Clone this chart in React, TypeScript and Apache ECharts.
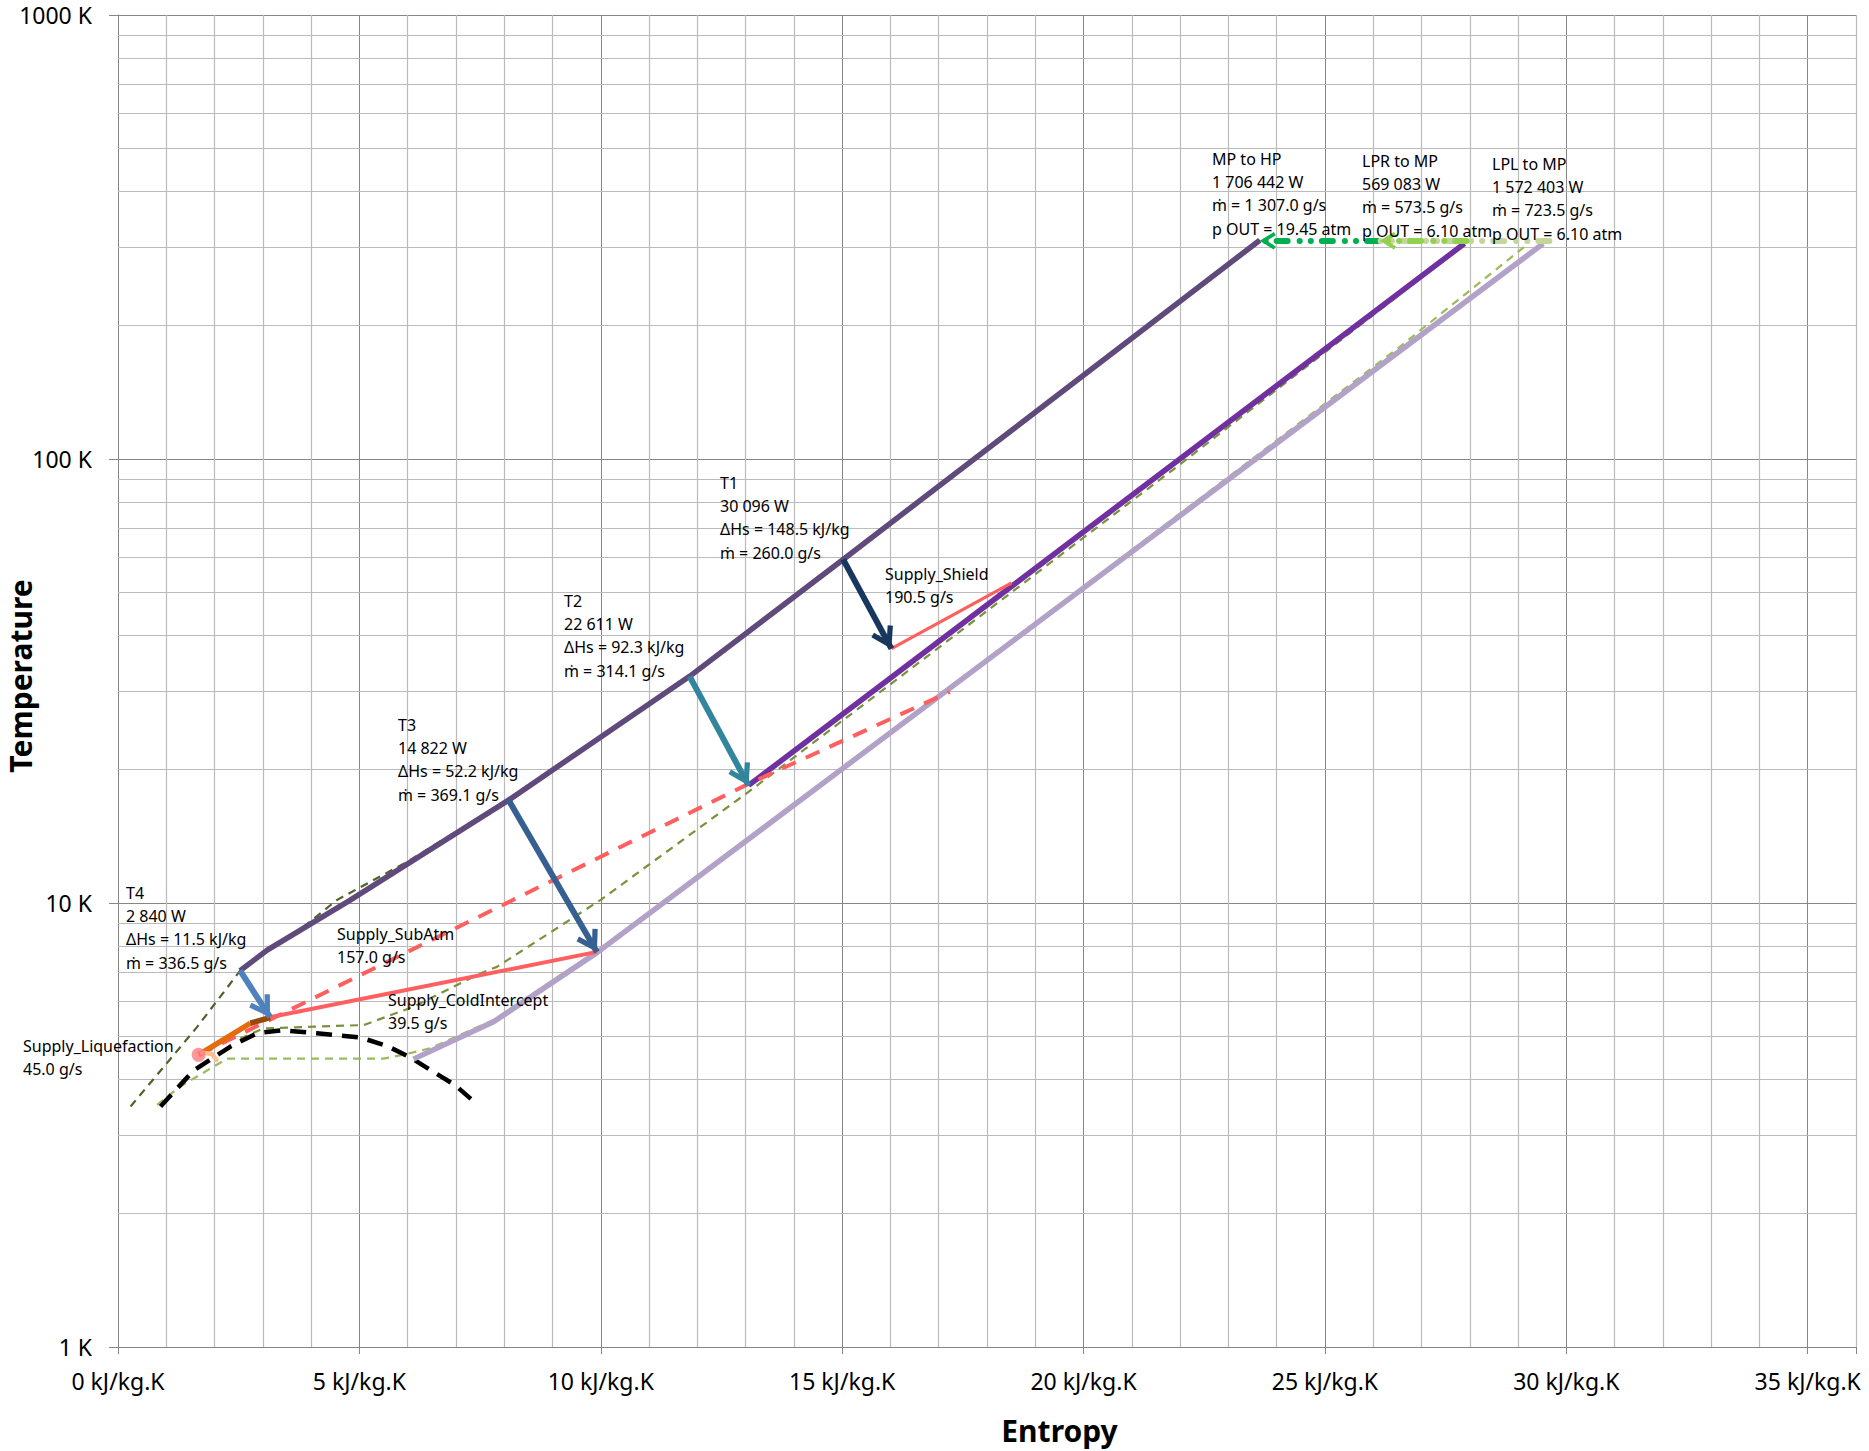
import React, { useEffect, useRef } from 'react';
import * as echarts from 'echarts';

type Pt = [number, number];

// ---------- Data: entropy [kJ/kg.K] , temperature [K] ----------
const hpStream: Pt[] = [[2.53, 7.04], [3.09, 7.83], [4.81, 10.15], [8.09, 17.05], [11.84, 32.4], [15.02, 59.4], [23.65, 311]];
const mpStream: Pt[] = [[13.06, 18.4], [27.89, 305.7]];
const lpStream: Pt[] = [[6.12, 4.45], [7.78, 5.4], [9.92, 7.73], [29.52, 305.6]];

const hpIsobar: Pt[] = [[0.26, 3.48], [1.64, 5.26], [2.53, 7.04], [3.09, 7.9], [3.71, 8.6], [4.53, 10.15], [6.0, 12.4], [8.09, 17.1], [11.84, 32.5], [15.02, 59.6], [23.65, 311]];
const mpIsobar: Pt[] = [[2.53, 4.95], [3.02, 5.22], [5.09, 5.31], [6.12, 5.84], [7.5, 6.94], [7.85, 7.18], [9.99, 10.15], [13.02, 17.66], [16.2, 32.3], [22.0, 97.3], [27.85, 302]];
const lpIsobar: Pt[] = [[0.81, 3.51], [1.29, 3.86], [1.98, 4.28], [2.26, 4.46], [5.5, 4.46], [5.98, 4.57], [6.47, 4.71], [7.78, 5.45], [9.92, 7.8], [17.2, 30.4], [23.1, 92.8], [26.55, 178.9], [29.17, 303]];
const saturationDome: Pt[] = [[0.88, 3.48], [1.57, 4.2], [2.33, 4.75], [2.88, 5.09], [3.4, 5.17], [4.12, 5.09], [5.02, 4.98], [5.6, 4.75], [6.05, 4.49], [6.98, 3.89], [7.4, 3.55]];

const supplySubAtm: Pt[] = [[1.67, 4.55], [13.04, 18.5], [17.23, 29.9]];
const supplyColdIntercept: Pt[] = [[3.15, 5.53], [9.92, 7.76]];
const supplyShield: Pt[] = [[16.02, 37.4], [18.51, 52.6]];
const liquefactionWarm: Pt[] = [[1.67, 4.55], [2.74, 5.36]];
const liquefactionCold: Pt[] = [[2.74, 5.36], [3.15, 5.52]];
const liquefactionHook: Pt[] = [[1.74, 4.6], [1.95, 4.57], [2.04, 4.43]];
const liquefactionPoint: Pt[] = [[1.67, 4.55]];

const turbineT4: Pt[] = [[2.53, 7.04], [3.15, 5.53]];
const turbineT3: Pt[] = [[8.09, 17.05], [9.92, 7.76]];
const turbineT2: Pt[] = [[11.84, 32.4], [13.06, 18.4]];
const turbineT1: Pt[] = [[15.02, 59.4], [16.02, 37.4]];

const compMpToHp: Pt[] = [[26.1, 310], [23.65, 310]];
const compLprToMp: Pt[] = [[27.93, 310], [26.14, 310]];
const compLplToMp: Pt[] = [[29.65, 310], [26.14, 310]];

const entropyMinorGrid = [1, 2, 3, 4, 6, 7, 8, 9, 11, 12, 13, 14, 16, 17, 18, 19, 21, 22, 23, 24, 26, 27, 28, 29, 31, 32, 33, 34, 36];
const temperatureMinorGrid = [2, 3, 4, 5, 6, 7, 8, 9, 20, 30, 40, 50, 60, 70, 80, 90, 200, 300, 400, 500, 600, 700, 800, 900];

const yTitle = 'Temperature';
const xTitle = 'Entropy';
const textT4 = ['T4', '2 840 W', 'ΔHs = 11.5 kJ/kg', 'ṁ = 336.5 g/s'];
const textT3 = ['T3', '14 822 W', 'ΔHs = 52.2 kJ/kg', 'ṁ = 369.1 g/s'];
const textT2 = ['T2', '22 611 W', 'ΔHs = 92.3 kJ/kg', 'ṁ = 314.1 g/s'];
const textT1 = ['T1', '30 096 W', 'ΔHs = 148.5 kJ/kg', 'ṁ = 260.0 g/s'];
const textShield = ['Supply_Shield', '190.5 g/s'];
const textSubAtm = ['Supply_SubAtm', '157.0 g/s'];
const textColdIntercept = ['Supply_ColdIntercept', '39.5 g/s'];
const textLiquefaction = ['Supply_Liquefaction', '45.0 g/s'];
const textMpToHp = ['MP to HP', '1 706 442 W', 'ṁ = 1 307.0 g/s', 'p OUT = 19.45 atm'];
const textLprToMp = ['LPR to MP', '569 083 W', 'ṁ = 573.5 g/s', 'p OUT = 6.10 atm'];
const textLplToMp = ['LPL to MP', '1 572 403 W', 'ṁ = 723.5 g/s', 'p OUT = 6.10 atm'];

// ---------- styling ----------
const FONT = 'Noto Sans';
const CHEVRON = 'path://M12,0.64 L12.01,0.64 L12,0.65 Z M12,22 L23.7,40.7 L19.45,43.36 L12,31.4 L4.55,43.36 L0.3,40.7 Z';
const BIG_HEAD: [number, number] = [24.5, 44.5];
const SMALL_HEAD: [number, number] = [17.5, 32];

function curve(name: string, data: Pt[], color: string, width: number, type: any = 'solid', z = 3, cap = 'butt') {
  return {
    type: 'line', name, data, z, symbol: 'none', showSymbol: false, silent: true,
    lineStyle: { color, width, type, cap, join: 'round' },
    emphasis: { disabled: true },
  };
}

function arrow(name: string, coords: Pt[], color: string, width: number, head: [number, number], type: any = 'solid', cap = 'butt', z = 6) {
  return {
    type: 'lines', name, coordinateSystem: 'cartesian2d', xAxisIndex: 0, yAxisIndex: 0,
    silent: true, z,
    symbol: ['none', CHEVRON], symbolSize: [head, head],
    lineStyle: { color, width, type, cap, opacity: 1, curveness: 0 },
    emphasis: { disabled: true },
    data: [{ coords }],
  };
}

function label(lines: string[], x: number, y: number) {
  return {
    type: 'text', x, y, silent: true, z: 100,
    style: { text: lines.join('\n'), fontFamily: FONT, fontSize: 16, lineHeight: 23.3, fill: '#000000' },
  };
}

const option: any = {
  animation: false,
  backgroundColor: '#ffffff',
  textStyle: { fontFamily: FONT },
  grid: { left: 118, right: 13, top: 15, bottom: 104, containLabel: false, outerBoundsMode: 'none' },
  xAxis: {
    type: 'value', min: 0, max: 36, interval: 5,
    name: xTitle, nameLocation: 'middle', nameGap: 68,
    nameTextStyle: { fontFamily: FONT, fontSize: 30, fontWeight: 'bold', color: '#000', padding: [0, 0, 0, 145] },
    axisLine: { show: true, onZero: false, lineStyle: { color: '#868686', width: 1 } },
    axisTick: { show: true, length: 7, inside: false, lineStyle: { color: '#868686' } },
    axisLabel: {
      show: true, margin: 22, fontFamily: FONT, fontSize: 23, color: '#000', hideOverlap: false,
      formatter: (v: number) => (v % 5 === 0 ? `${v} kJ/kg.K` : ''),
    },
    splitLine: { show: true, showMaxLine: false, lineStyle: { color: '#868686', width: 1, type: 'solid' } },
  },
  yAxis: {
    type: 'log', logBase: 10, min: 1, max: 1000,
    axisLine: { show: true, onZero: false, lineStyle: { color: '#868686', width: 1 } },
    axisTick: { show: true, length: 9, inside: false, lineStyle: { color: '#868686' } },
    axisLabel: { show: true, margin: 26, fontFamily: FONT, fontSize: 23, color: '#000', formatter: (v: number) => `${v} K` },
    splitLine: { show: true, lineStyle: { color: '#868686', width: 1, type: 'solid' } },
  },
  graphic: [
    {
      type: 'text', x: 20, y: 676, rotation: Math.PI / 2, silent: true, z: 100,
      style: { text: yTitle, fontFamily: FONT, fontSize: 30, fontWeight: 'bold', fill: '#000', align: 'center', verticalAlign: 'middle' },
    },
    label(textT4, 126, 881),
    label(textT3, 398, 713),
    label(textT2, 564, 589),
    label(textT1, 720, 471),
    label(textShield, 885, 562),
    label(textSubAtm, 337, 922),
    label(textColdIntercept, 388, 988),
    label(textLiquefaction, 23, 1034),
    label(textMpToHp, 1212, 147),
    label(textLprToMp, 1362, 149),
    label(textLplToMp, 1492, 152),
  ],
  series: [
    {
      type: 'line', name: 'minor grid', data: [], silent: true, z: 1, symbol: 'none',
      markLine: {
        silent: true, symbol: ['none', 'none'], z: 1, animation: false,
        label: { show: false }, emphasis: { disabled: true },
        lineStyle: { color: '#BBBBBB', width: 1.2, type: 'solid' },
        data: [
          ...entropyMinorGrid.map((v) => ({ xAxis: v })),
          ...temperatureMinorGrid.map((v) => ({ yAxis: v })),
        ],
      },
    },
    curve('LP isobar', lpIsobar, '#9BBB59', 2.2, [8, 6]),
    curve('MP isobar', mpIsobar, '#77933C', 2.2, [8, 6]),
    curve('HP isobar', hpIsobar, '#4F6228', 2.2, [8, 6]),
    curve('Saturation', saturationDome, '#000000', 4.5, [16, 10]),
    curve('LP stream', lpStream, '#B3A2C7', 5.5),
    curve('MP stream', mpStream, '#7030A0', 5.5),
    curve('HP stream', hpStream, '#604A7B', 5.5),
    curve('Supply_SubAtm', supplySubAtm, '#FF5F5F', 4, [15, 11], 4),
    curve('Supply_ColdIntercept', supplyColdIntercept, '#FF5F5F', 4, 'solid', 4),
    curve('Supply_Shield', supplyShield, '#FF5F5F', 3.2, 'solid', 4),
    curve('Supply_Liquefaction warm', liquefactionWarm, '#E46C0A', 5.5, 'solid', 4),
    curve('Supply_Liquefaction cold', liquefactionCold, '#984807', 5.5, 'solid', 4),
    curve('Supply_Liquefaction hook', liquefactionHook, '#FAC090', 4.5, 'solid', 4, 'round'),
    {
      type: 'scatter', name: 'Supply_Liquefaction', data: liquefactionPoint, z: 5, silent: true,
      symbol: 'circle', symbolSize: 14, itemStyle: { color: '#FF7C80' }, emphasis: { disabled: true },
    },
    arrow('T4', turbineT4, '#4F81BD', 6, BIG_HEAD),
    arrow('T3', turbineT3, '#376092', 6, BIG_HEAD),
    arrow('T2', turbineT2, '#31859C', 6, BIG_HEAD),
    arrow('T1', turbineT1, '#17375E', 6, BIG_HEAD),
    arrow('MP to HP', compMpToHp, '#00B050', 6, SMALL_HEAD, [11, 11, 0.1, 11, 0.1, 12], 'round'),
    arrow('LPL to MP', compLplToMp, '#C3D69B', 6, SMALL_HEAD, [11, 11, 0.1, 11, 0.1, 12], 'round'),
    arrow('LPR to MP', compLprToMp, '#92D050', 6, SMALL_HEAD, [11, 11, 0.1, 11, 0.1, 12], 'round'),
  ],
};

export default function App() {
  const ref = useRef<HTMLDivElement>(null);
  useEffect(() => {
    if (!ref.current) return;
    const chart = echarts.init(ref.current, null, { renderer: 'svg' });
    chart.setOption(option);
    return () => chart.dispose();
  }, []);
  return (
    <div
      ref={ref}
      style={{ position: 'fixed', left: 0, top: 0, width: 1869, height: 1451, background: '#ffffff' }}
    />
  );
}
